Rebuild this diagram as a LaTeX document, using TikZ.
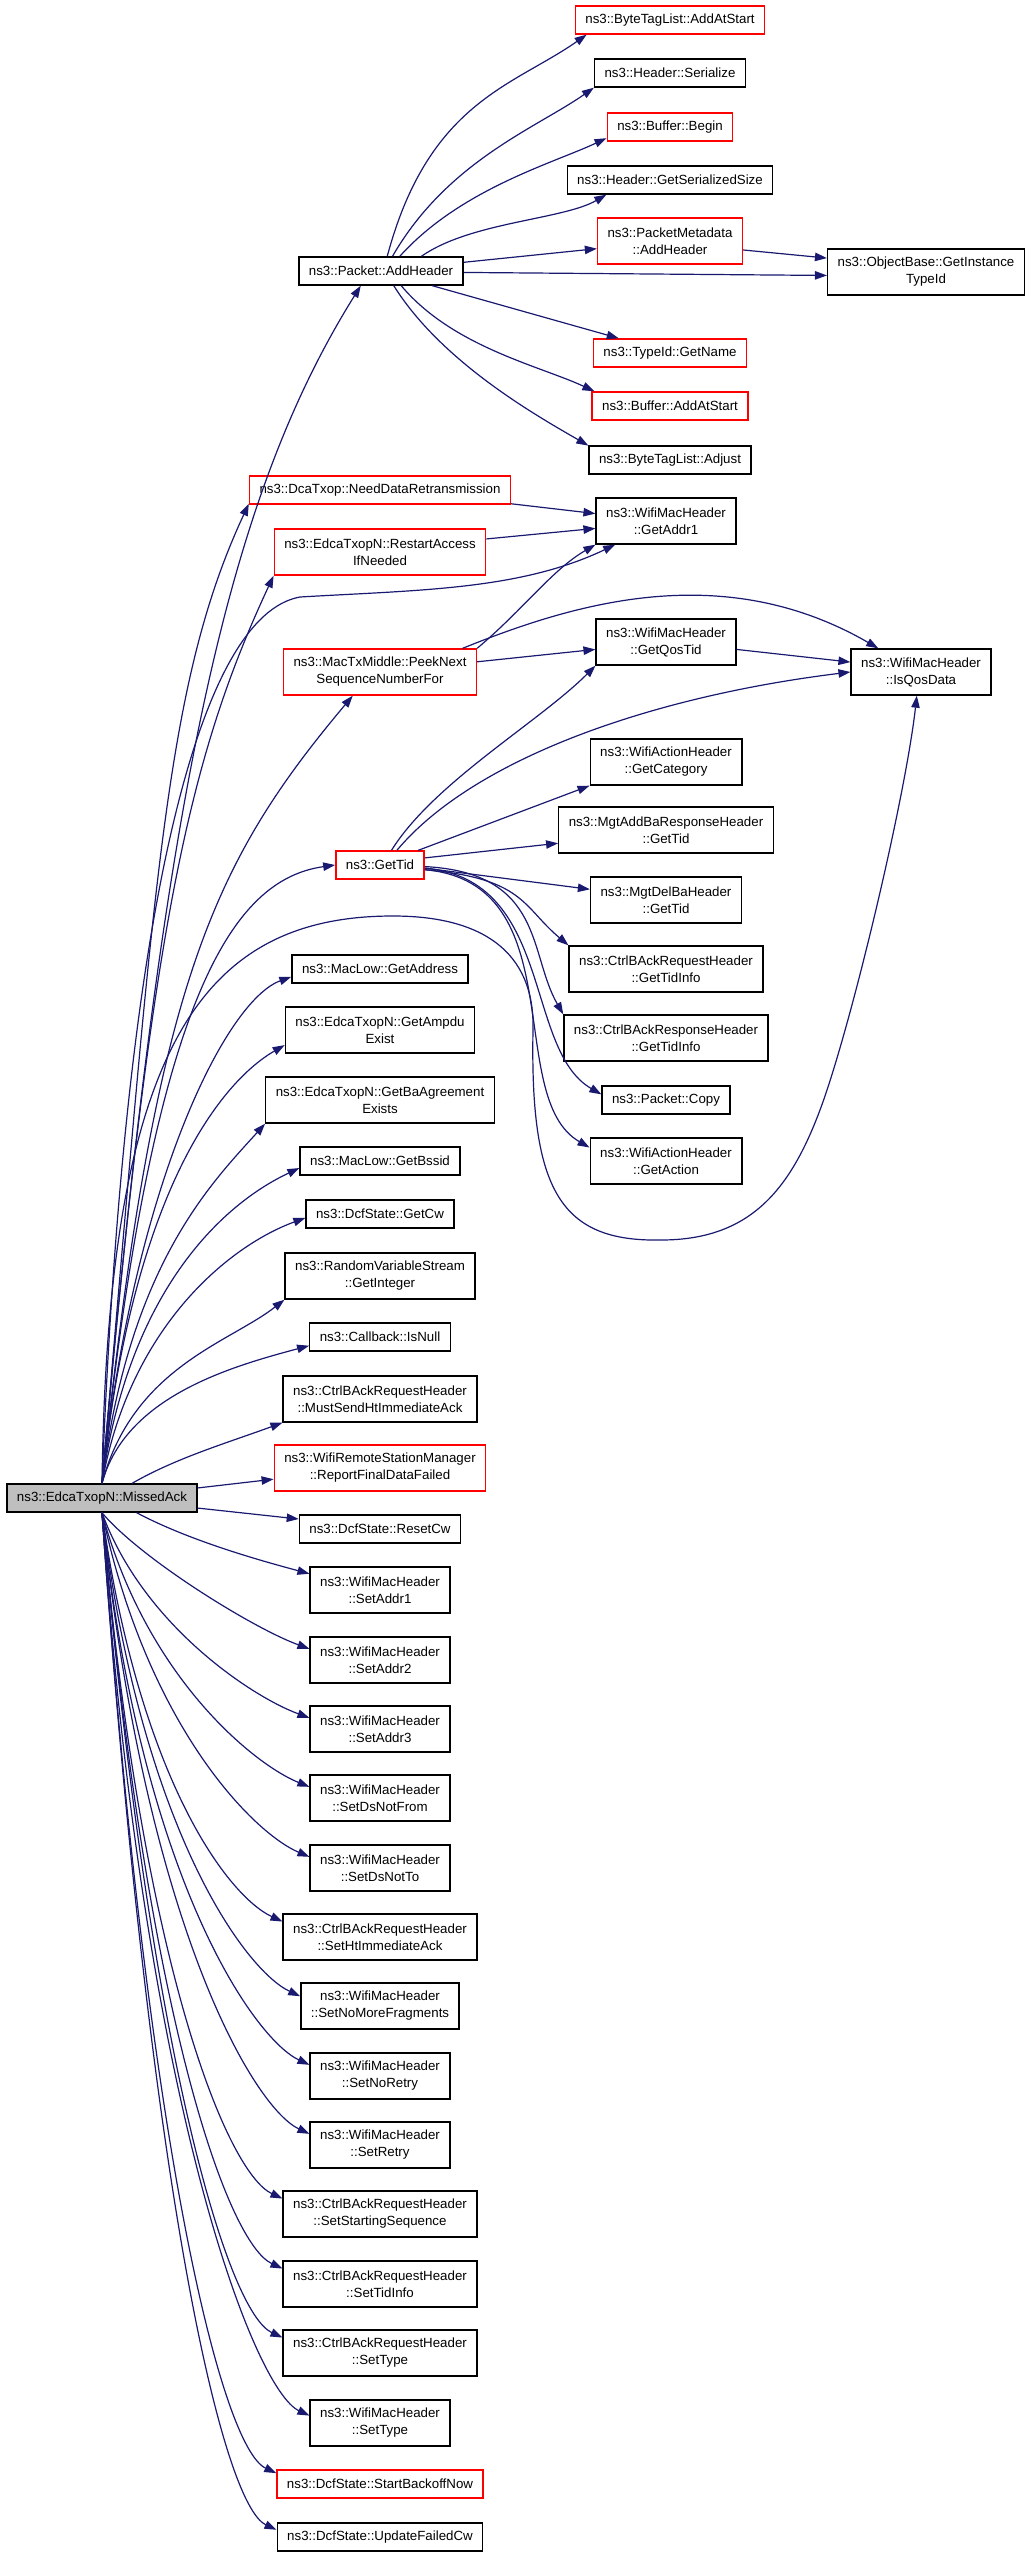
\documentclass[tikz,border=0pt]{standalone}
\usepackage{fontspec}
\newfontfamily\dxfont{Liberation Sans}
\usepackage{tikz}
\usetikzlibrary{arrows.meta}
\definecolor{edgeblue}{HTML}{191970}
\definecolor{boxred}{HTML}{FF0000}
\definecolor{curgray}{HTML}{BFBFBF}

\begin{document}
\begin{tikzpicture}
            [x=0.25pt, y=0.25pt, every node/.style={draw, rectangle, line width=0.35pt, fill=white, inner xsep=2.5pt, inner ysep=0.75pt, minimum height=7pt, align=center, font=\dxfont\fontsize{3.325}{4.25}\selectfont},
             tall/.style={minimum height=11.5pt},
             trunc/.style={draw=boxred},
             cur/.style={fill=curgray},
             call/.style={draw=edgeblue, line width=0.3pt, -{Triangle[length=3pt,width=2.1pt]}}]
          \useasboundingbox (0,0) rectangle (1027,-2557);

          \node[cur] (ma) at (102,-1498) {ns3::EdcaTxopN::MissedAck};

          % callees of MissedAck
          \node (pah) at (381,-271) {ns3::Packet::AddHeader};
          \node[trunc] (ndr) at (380,-490) {ns3::DcaTxop::NeedDataRetransmission};
          \node[trunc, tall] (rai) at (380,-552) {ns3::EdcaTxopN::RestartAccess\\IfNeeded};
          \node[trunc, tall] (pnsn) at (380,-672) {ns3::MacTxMiddle::PeekNext\\SequenceNumberFor};
          \node[trunc] (gtid) at (380,-865) {ns3::GetTid};
          \node (gaddr) at (380,-969) {ns3::MacLow::GetAddress};
          \node[tall] (gae) at (380,-1030) {ns3::EdcaTxopN::GetAmpdu\\Exist};
          \node[tall] (gbae) at (380,-1100) {ns3::EdcaTxopN::GetBaAgreement\\Exists};
          \node (gbssid) at (380,-1161) {ns3::MacLow::GetBssid};
          \node (gcw) at (380,-1214) {ns3::DcfState::GetCw};
          \node[tall] (gint) at (380,-1276) {ns3::RandomVariableStream\\::GetInteger};
          \node (isnull) at (380,-1337) {ns3::Callback::IsNull};
          \node[tall] (mshia) at (380,-1399) {ns3::CtrlBAckRequestHeader\\::MustSendHtImmediateAck};
          \node[trunc, tall] (rfdf) at (380,-1468) {ns3::WifiRemoteStationManager\\::ReportFinalDataFailed};
          \node (rcw) at (380,-1529) {ns3::DcfState::ResetCw};
          \node[tall] (sa1) at (380,-1590) {ns3::WifiMacHeader\\::SetAddr1};
          \node[tall] (sa2) at (380,-1660) {ns3::WifiMacHeader\\::SetAddr2};
          \node[tall] (sa3) at (380,-1729) {ns3::WifiMacHeader\\::SetAddr3};
          \node[tall] (sdnf) at (380,-1798) {ns3::WifiMacHeader\\::SetDsNotFrom};
          \node[tall] (sdnt) at (380,-1868) {ns3::WifiMacHeader\\::SetDsNotTo};
          \node[tall] (shia) at (380,-1937) {ns3::CtrlBAckRequestHeader\\::SetHtImmediateAck};
          \node[tall] (snmf) at (380,-2006) {ns3::WifiMacHeader\\::SetNoMoreFragments};
          \node[tall] (snr) at (380,-2076) {ns3::WifiMacHeader\\::SetNoRetry};
          \node[tall] (sr) at (380,-2145) {ns3::WifiMacHeader\\::SetRetry};
          \node[tall] (sss) at (380,-2214) {ns3::CtrlBAckRequestHeader\\::SetStartingSequence};
          \node[tall] (sti) at (380,-2284) {ns3::CtrlBAckRequestHeader\\::SetTidInfo};
          \node[tall] (cst) at (380,-2353) {ns3::CtrlBAckRequestHeader\\::SetType};
          \node[tall] (wst) at (380,-2423) {ns3::WifiMacHeader\\::SetType};
          \node[trunc] (sbn) at (380,-2484) {ns3::DcfState::StartBackoffNow};
          \node (ufcw) at (380,-2537) {ns3::DcfState::UpdateFailedCw};

          % second level
          \node[trunc] (bal) at (670,-20) {ns3::ByteTagList::AddAtStart};
          \node (hser) at (670,-73) {ns3::Header::Serialize};
          \node[trunc] (bbeg) at (670,-127) {ns3::Buffer::Begin};
          \node (hgss) at (670,-180) {ns3::Header::GetSerializedSize};
          \node[trunc, tall] (pmah) at (670,-241) {ns3::PacketMetadata\\::AddHeader};
          \node[trunc] (tgn) at (670,-353) {ns3::TypeId::GetName};
          \node[trunc] (baas) at (670,-406) {ns3::Buffer::AddAtStart};
          \node (btla) at (670,-460) {ns3::ByteTagList::Adjust};
          \node[tall] (ga1) at (666,-521) {ns3::WifiMacHeader\\::GetAddr1};
          \node[tall] (gqt) at (666,-642) {ns3::WifiMacHeader\\::GetQosTid};
          \node[tall] (gcat) at (666,-762) {ns3::WifiActionHeader\\::GetCategory};
          \node[tall] (mabr) at (666,-830) {ns3::MgtAddBaResponseHeader\\::GetTid};
          \node[tall] (mdb) at (666,-900) {ns3::MgtDelBaHeader\\::GetTid};
          \node[tall] (crti) at (666,-969) {ns3::CtrlBAckRequestHeader\\::GetTidInfo};
          \node[tall] (crsti) at (666,-1038) {ns3::CtrlBAckResponseHeader\\::GetTidInfo};
          \node (pcopy) at (666,-1100) {ns3::Packet::Copy};
          \node[tall] (gact) at (666,-1161) {ns3::WifiActionHeader\\::GetAction};

          \node[tall] (obgit) at (926,-272) {ns3::ObjectBase::GetInstance\\TypeId};
          \node[tall] (iqd) at (921,-672) {ns3::WifiMacHeader\\::IsQosData};

          \foreach \tg/\oa/\ob/\ia/\ib in {pah.216/85/700/238/250, ndr.186/85/600/245/200, rai.south west/85/560/245/200,
              pnsn.221/84/500/230/220, gtid.180/84/487/188/105, gaddr.185/84/300/200/70, gae.189/84/300/210/70,
              gbae.south west/83/220/228/80, gbssid.185/82/200/205/80, gcw.183/80/160/200/80,
              gint.south west/75/120/218/70, isnull.187/75/90/195/80}
            \draw[call] (ma.north) .. controls +(\oa:\ob) and +(\ia:\ib) .. (\tg);

          \foreach \tg/\oa/\ob/\ia/\ib in {sa2.171/-50/60/160/60, sa3.171/-70/120/160/60, sdnf.171/-75/170/158/60,
              sdnt.171/-78/220/157/60, shia.171/-82/270/155/60, snmf.173/-83/320/155/60, snr.171/-84/370/155/60,
              sr.171/-84/420/155/60, sss.171/-85/460/155/60, sti.171/-85/510/155/60, cst.171/-85/550/155/60,
              wst.174/-86/600/155/60, sbn.174/-86/640/155/60, ufcw.176/-86/680/155/60}
            \draw[call] (ma.south) .. controls +(\oa:\ob) and +(\ia:\ib) .. (\tg);

          \foreach \from/\tg/\oa/\ob/\ia/\ib in {pah.67/bal.190/75/160/215/90, pah.52/hser.south west/60/110/215/70,
              pah.38/bbeg.190/48/90/205/60, pah.20/hgss.193/35/60/210/50, pah.-36/baas.169/-50/80/155/60,
              pah.-49/btla.170/-58/90/150/60, gtid.52/gqt.south west/58/80/225/80, gtid.41/iqd.180/50/120/187/200,
              gtid.-6/crti.north west/-5/100/140/60, gtid.-2/crsti.north west/-3/120/120/70,
              gtid.-4/pcopy.175/-5/130/150/90, gtid.-6/gact.170/-5/150/150/100,
              pnsn.north east/ga1.south west/40/60/210/50, pnsn.16/iqd.151/22/120/150/180,
              ma.26/mshia.south west/30/50/200/60, ma.-23/sa1.167/-28/60/165/50}
            \draw[call] (\from) .. controls +(\oa:\ob) and +(\ia:\ib) .. (\tg);

          \foreach \from/\tg in {pah.6/pmah.186, pah.-1/obgit.182, pmah.-7/obgit.172, pah.-16/tgn.164, ndr.-6/ga1.174,
              rai.7/ga1.186, pnsn.6/gqt.186, gqt.-6/iqd.172, gtid.21/gcat.south west, gtid.9/mabr.187, gtid.-4/mdb.172,
              ma.6/rfdf.186, ma.-6/rcw.173}
            \draw[call] (\from) -- (\tg);

          % long detours
          \draw[call] (ma.north) .. controls (125,-900) and (200,-615) .. (300,-597)
            .. controls (420,-590) and (520,-590) .. (ga1.205);
          \draw[call] (ma.north) .. controls (108,-1050) and (200,-916) .. (393,-916)
            .. controls (480,-916) and (535,-950) .. (533,-1030)
            .. controls (530,-1190) and (560,-1242) .. (661,-1240)
            .. controls (750,-1240) and (790,-1190) .. (820,-1110)
            .. controls (850,-1030) and (905,-800) .. (iqd.260);
        \end{tikzpicture}
\end{document}
